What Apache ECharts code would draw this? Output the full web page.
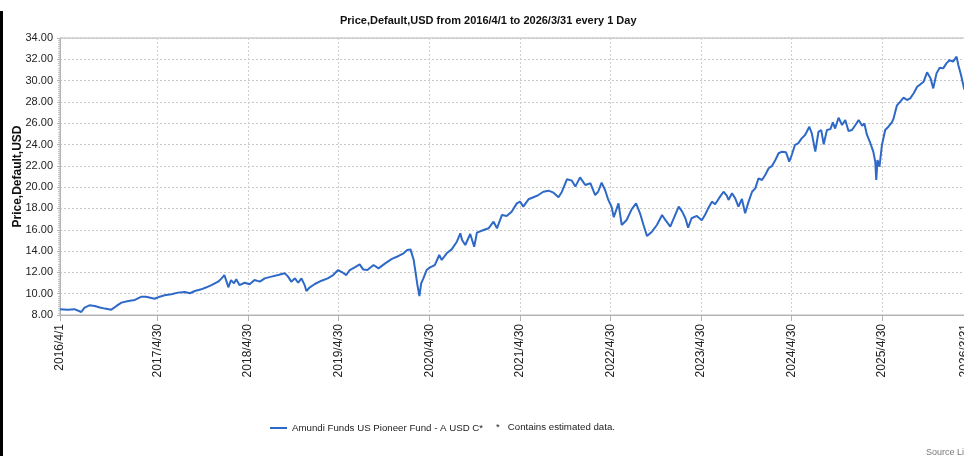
<!DOCTYPE html>
<html><head><meta charset="utf-8">
<script src="https://cdn.jsdelivr.net/npm/echarts@6/dist/echarts.min.js"></script>
<style>html,body{margin:0;padding:0;background:#fff;overflow:hidden}#c{width:964px;height:456px}</style>
</head><body><div id="c"></div>
<script>
const titleText = 'Price,Default,USD from 2016/4/1 to 2026/3/31 every 1 Day';
const yAxisName = 'Price,Default,USD';
const seriesName = 'Amundi Funds US Pioneer Fund - A USD C*';
const noteText = '*   Contains estimated data.';
const sourceText = 'Source Lipper';
const startDate = '2016/4/1';
const endDate = '2026/3/31';
const tickDates = ['2016/4/1','2017/4/30','2018/4/30','2019/4/30','2020/4/30','2021/4/30','2022/4/30','2023/4/30','2024/4/30','2025/4/30','2026/3/31'];
const yMin = 8, yMax = 34, yStep = 2;

const priceDates = [
'2016/4/1','2016/5/3','2016/5/29','2016/6/26','2016/7/9','2016/7/29','2016/8/19','2016/9/9','2016/9/29','2016/10/25','2016/11/15','2016/12/5',
'2017/1/2','2017/1/28','2017/2/24','2017/3/14','2017/4/18','2017/5/8','2017/5/28','2017/6/24','2017/7/21','2017/8/17','2017/9/7','2017/9/27','2017/10/23','2017/11/13','2017/12/3','2017/12/30',
'2018/1/13','2018/1/24','2018/2/2','2018/2/9','2018/2/20','2018/3/4','2018/3/13','2018/3/26','2018/4/16','2018/5/6','2018/5/26','2018/6/16','2018/7/6','2018/8/2','2018/8/29','2018/9/25','2018/10/8','2018/10/21','2018/11/5','2018/11/18','2018/12/1','2018/12/14','2018/12/21',
'2019/1/4','2019/1/24','2019/2/20','2019/3/17','2019/4/8','2019/4/28','2019/5/17','2019/5/31','2019/6/14','2019/7/4','2019/7/24','2019/8/7','2019/8/24','2019/9/18','2019/10/8','2019/11/4','2019/12/1','2019/12/28',
'2020/1/17','2020/2/1','2020/2/14','2020/2/27','2020/3/4','2020/3/13','2020/3/21','2020/3/28','2020/4/6','2020/4/19','2020/5/3','2020/5/22','2020/6/9','2020/6/19','2020/7/9','2020/7/29','2020/8/19','2020/9/2','2020/9/9','2020/9/22','2020/10/12','2020/10/28','2020/11/8','2020/12/5','2020/12/25',
'2021/1/14','2021/1/28','2021/2/17','2021/3/8','2021/3/28','2021/4/18','2021/5/1','2021/5/14','2021/6/4','2021/6/24','2021/7/14','2021/8/3','2021/8/24','2021/9/13','2021/10/3','2021/10/17','2021/11/6','2021/11/26','2021/12/10','2021/12/29',
'2022/1/19','2022/2/9','2022/2/28','2022/3/12','2022/3/26','2022/4/9','2022/4/22','2022/5/5','2022/5/14','2022/6/2','2022/6/15','2022/7/5','2022/7/25','2022/8/12','2022/8/28','2022/9/11','2022/9/25','2022/10/15','2022/11/4','2022/11/25','2022/12/8','2022/12/14','2022/12/28',
'2023/1/17','2023/1/31','2023/2/14','2023/2/27','2023/3/10','2023/3/24','2023/4/14','2023/5/4','2023/5/17','2023/5/30','2023/6/14','2023/6/27','2023/7/17','2023/7/31','2023/8/13','2023/8/20','2023/9/3','2023/9/16','2023/9/29','2023/10/13','2023/10/26','2023/11/9','2023/11/23','2023/12/6','2023/12/19',
'2024/1/2','2024/1/15','2024/1/29','2024/2/12','2024/2/25','2024/3/9','2024/3/23','2024/4/8','2024/4/21','2024/5/1','2024/5/14','2024/5/27','2024/6/10','2024/6/24','2024/7/11','2024/7/21','2024/8/4','2024/8/17','2024/8/28','2024/9/7','2024/9/20','2024/10/4','2024/10/14','2024/10/23','2024/11/6','2024/11/20','2024/12/3','2024/12/16','2024/12/30',
'2025/1/13','2025/1/26','2025/2/9','2025/2/18','2025/2/28','2025/3/12','2025/3/26','2025/4/3','2025/4/7','2025/4/12','2025/4/20','2025/4/30','2025/5/13','2025/5/26','2025/6/9','2025/6/16','2025/6/29','2025/7/12','2025/7/26','2025/8/9','2025/8/22','2025/9/5','2025/9/19','2025/10/2','2025/10/15','2025/10/29','2025/11/12','2025/11/23','2025/12/6','2025/12/19',
'2026/1/2','2026/1/15','2026/1/28','2026/2/11','2026/2/25','2026/3/4','2026/3/15','2026/3/27','2026/3/31'
];
const priceValues = [
8.54,8.50,8.55,8.28,8.70,8.91,8.85,8.70,8.60,8.50,8.85,9.16,
9.32,9.41,9.72,9.72,9.53,9.72,9.85,9.94,10.10,10.16,10.04,10.25,10.41,10.60,10.81,11.13,
11.44,11.75,11.13,10.60,11.28,10.97,11.35,10.81,11.03,10.88,11.28,11.13,11.44,11.60,11.75,11.91,11.60,11.13,11.44,11.03,11.44,10.81,10.25,
10.60,10.91,11.22,11.44,11.75,12.22,11.97,11.75,12.22,12.47,12.75,12.28,12.22,12.69,12.38,12.85,13.26,13.54,
13.79,14.10,14.16,13.16,12.22,10.81,9.78,10.97,11.44,12.22,12.47,12.69,13.63,13.16,13.79,14.16,14.88,15.67,15.04,14.57,15.60,14.41,15.73,15.98,16.14,
16.76,16.14,17.39,17.30,17.70,18.48,18.64,18.17,18.86,19.05,19.26,19.57,19.67,19.48,19.05,19.57,20.74,20.61,20.05,20.92,
20.20,20.36,19.26,19.57,20.43,19.73,18.80,18.17,17.17,18.48,16.45,16.92,17.92,18.48,17.55,16.45,15.41,15.82,16.45,17.39,16.92,16.76,16.29,
17.39,18.17,17.70,17.08,16.20,17.08,17.30,16.90,17.39,18.01,18.64,18.40,19.11,19.57,19.20,18.80,19.42,18.95,18.17,18.89,17.55,18.64,19.57,19.89,20.83,
20.67,21.14,21.77,22.00,22.55,23.18,23.33,23.27,22.39,23.02,23.96,24.11,24.58,24.89,25.67,25.05,23.33,25.20,25.36,24.02,25.36,25.45,26.08,25.50,26.52,25.83,26.30,25.27,25.36,
25.83,26.30,25.76,25.98,24.95,24.26,23.33,22.39,20.67,22.55,21.92,23.96,25.36,25.67,26.08,26.46,27.65,28.01,28.40,28.18,28.33,28.81,29.43,29.65,29.90,30.78,30.21,29.27,30.68,31.21,
31.15,31.62,31.93,31.78,32.25,31.46,30.53,29.27,29.10
];

function buildDays(a, b) {
  const p = s => { const t = s.split('/').map(Number); return Date.UTC(t[0], t[1] - 1, t[2]); };
  const out = [];
  for (let t = p(a); t <= p(b); t += 86400000) {
    const d = new Date(t);
    out.push(d.getUTCFullYear() + '/' + (d.getUTCMonth() + 1) + '/' + d.getUTCDate());
  }
  return out;
}
const days = buildDays(startDate, endDate);
const tickSet = new Set(tickDates);
const isTick = (i, v) => tickSet.has(v);

const FONT = '"Liberation Sans", Arial, sans-serif';
const chart = echarts.init(document.getElementById('c'), null, {renderer: 'canvas'});
chart.setOption({
  animation: false,
  backgroundColor: '#ffffff',
  title: {
    text: titleText, left: 335, top: 10,
    textStyle: {fontFamily: FONT, fontSize: 11, fontWeight: 'bold', color: '#111'}
  },
  grid: {left: 60, right: -1, top: 38, bottom: 141, containLabel: false, outerBoundsMode: 'none',
    show: true, borderColor: '#b4b4b4', borderWidth: 1},
  legend: {
    left: 265, top: 418, itemWidth: 17, itemHeight: 2, icon: 'rect',
    textStyle: {fontFamily: FONT, fontSize: 9.7, color: '#222'},
    data: [seriesName]
  },
  xAxis: {
    type: 'category', data: days, boundaryGap: false,
    axisLine: {lineStyle: {color: '#b4b4b4'}},
    axisTick: {interval: isTick, length: 6, lineStyle: {color: '#b4b4b4'}},
    axisLabel: {interval: isTick, rotate: 90, margin: 9, fontFamily: FONT, fontSize: 12, color: '#222'},
    splitLine: {show: true, interval: isTick, lineStyle: {color: '#cfcfcf', type: [2, 2]}}
  },
  yAxis: {
    type: 'value', min: yMin, max: yMax, interval: yStep,
    name: yAxisName, nameLocation: 'middle', nameGap: 36, nameMoveOverlap: false,
    nameTextStyle: {fontFamily: FONT, fontSize: 12, fontWeight: 'bold', color: '#111'},
    axisLine: {show: true, lineStyle: {color: '#b4b4b4'}},
    axisTick: {show: true, length: 3, lineStyle: {color: '#b4b4b4'}},
    minorTick: {show: true, splitNumber: 10, length: 2, lineStyle: {color: '#c4c4c4'}},
    axisLabel: {margin: 7, fontFamily: FONT, fontSize: 11, color: '#222', formatter: v => v.toFixed(2)},
    splitLine: {show: true, lineStyle: {color: '#c8c8c8', type: [2, 2]}}
  },
  series: [{
    name: seriesName, type: 'line', showSymbol: false, symbol: 'none',
    data: priceDates.map((d, i) => [d, priceValues[i]]),
    lineStyle: {width: 2, color: '#2e69c7'}, itemStyle: {color: '#2e69c7'}
  }],
  graphic: [
    {type: 'rect', left: 0, top: 11, shape: {width: 3, height: 445}, style: {fill: '#000'}},
    {type: 'text', left: 496, top: 422, style: {text: noteText, font: '9.7px ' + FONT, fill: '#222'}},
    {type: 'text', left: 926, top: 448, style: {text: sourceText, font: '9px ' + FONT, fill: '#777'}}
  ]
});
</script></body></html>
